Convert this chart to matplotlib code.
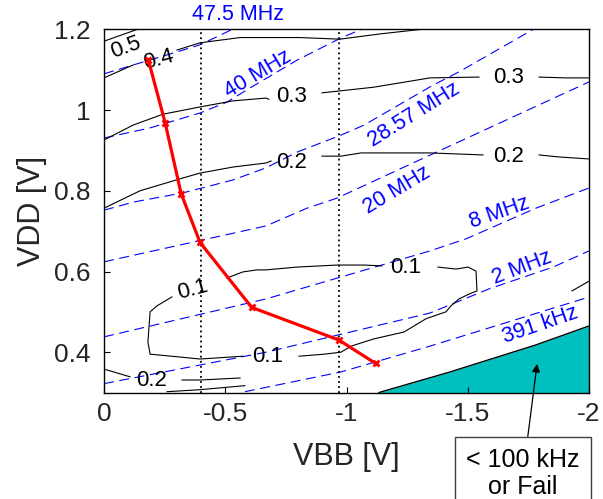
import matplotlib

matplotlib.use("Agg")

import matplotlib.pyplot as plt
import numpy as np

plt.rcParams["font.family"] = ["Liberation Sans", "DejaVu Sans"]

nan = np.nan

# ------------------------------------------------------------------ data

# optimum (VBB, VDD) trace
OPT_VBB = [-0.183, -0.252, -0.318, -0.396, -0.609, -0.969, -1.120]
OPT_VDD = [1.124, 0.969, 0.793, 0.672, 0.511, 0.430, 0.372]

# dotted reference lines
MARK_VBB = [-0.40, -0.97]

# frequency contours (blue, dashed)
F475_VBB = [0.0, -0.120, -0.260, -0.396, -0.528]
F475_VDD = [1.090, 1.112, 1.137, 1.162, 1.200]
F40_VBB = [0.0, -0.190, -0.396, -0.507, -0.602, -0.796, -0.977, -1.060]
F40_VDD = [0.931, 0.956, 0.993, 1.020, 1.055, 1.124, 1.179, 1.200]
F2857_VBB = [0.0, -0.120, -0.326, -0.532, -0.668, -0.796, -0.977, -1.072, -1.357, -1.464, -1.769]
F2857_VDD = [0.752, 0.772, 0.795, 0.827, 0.857, 0.896, 0.938, 0.963, 1.062, 1.095, 1.200]
F20_VBB = [0.0, -0.668, -0.837, -0.961, -1.328, -2.0]
F20_VDD = [0.624, 0.713, 0.757, 0.782, 0.884, 1.070]
F8_VBB = [0.0, -0.668, -1.344, -1.493, -1.781, -2.0]
F8_VDD = [0.438, 0.532, 0.651, 0.681, 0.757, 0.807]
F2_VBB = [0.0, -0.668, -1.344, -1.588, -1.852, -2.0]
F2_VDD = [0.322, 0.400, 0.497, 0.557, 0.611, 0.651]
F391_VBB = [-0.581, -0.977, -1.344, -1.975, -2.0]
F391_VDD = [0.302, 0.351, 0.415, 0.532, 0.537]

FREQ_TEXT = ["47.5 MHz", "40 MHz", "28.57 MHz", "20 MHz", "8 MHz", "2 MHz", "391 kHz"]
FREQ_TEXT_VBB = [-0.553, -0.635, -1.278, -1.208, -1.633, -1.724, -1.798]
FREQ_TEXT_VDD = [1.236, 1.090, 0.988, 0.802, 0.747, 0.609, 0.467]
FREQ_TEXT_ROT = [0, 31, 32, 31, 19, 21, 19]

# energy contours (black), nan = gap for the inline label
E05_VBB = [0.0, -0.136]
E05_VDD = [1.171, 1.200]
E04_VBB = [0.0, -0.120, nan, -0.301, -0.396, -0.561, -0.808, -0.973, -1.138, -1.303]
E04_VDD = [1.080, 1.112, nan, 1.149, 1.167, 1.180, 1.180, 1.176, 1.189, 1.200]
E03_VBB = [0.0, -0.120, -0.243, -0.396, -0.532, -0.668, -0.680, nan,
           -0.899, -0.977, -1.113, -1.344, -1.546, nan, -1.794, -1.905, -2.0]
E03_VDD = [0.926, 0.963, 0.990, 1.008, 1.023, 1.030, 1.027, nan,
           1.043, 1.048, 1.057, 1.080, 1.082, nan, 1.082, 1.080, 1.080]
E02_VBB = [0.0, -0.148, -0.326, -0.396, -0.532, -0.668, -0.689, nan,
           -0.899, -0.977, -1.060, -1.344, -1.563, nan, -1.794, -1.876, -2.0]
E02_VDD = [0.757, 0.800, 0.832, 0.844, 0.859, 0.869, 0.874, nan,
           0.886, 0.886, 0.894, 0.894, 0.889, nan, 0.889, 0.884, 0.879]
E01_VBB = [-0.507, -0.573, -0.631, -0.668, -0.796, -0.961, -1.072, -1.146, nan,
           -1.377, -1.452, -1.501, -1.534, -1.538, -1.505, -1.464, -1.431, -1.410,
           -1.328, -1.237, -1.113, -1.019, -0.977, -0.907, -0.804, nan,
           -0.573, -0.396, -0.313, -0.190, -0.181, -0.190, -0.219, -0.280, nan,
           -1.930, -2.0]
E01_VDD = [0.584, 0.599, 0.604, 0.604, 0.611, 0.616, 0.616, 0.614, nan,
           0.611, 0.606, 0.611, 0.601, 0.552, 0.544, 0.532, 0.515, 0.500,
           0.483, 0.450, 0.433, 0.415, 0.400, 0.395, 0.390, nan,
           0.390, 0.383, 0.388, 0.395, 0.425, 0.500, 0.515, 0.537, nan,
           0.552, 0.576]
E02B_VBB = [0.0, -0.107, nan, -0.322, -0.396, -0.561, nan, -0.260, -0.396, -0.581]
E02B_VDD = [0.358, 0.339, nan, 0.331, 0.331, 0.336, nan, 0.302, 0.307, 0.317]

E_TEXT = ["0.5", "0.4", "0.3", "0.3", "0.2", "0.2", "0.1", "0.1", "0.1", "0.2"]
E_TEXT_VBB = [-0.091, -0.227, -0.775, -1.670, -0.775, -1.670, -1.245, -0.674, -0.367, -0.198]
E_TEXT_VDD = [1.155, 1.126, 1.033, 1.082, 0.871, 0.886, 0.611, 0.389, 0.554, 0.330]
E_TEXT_ROT = [20, 15, 0, 0, 0, 0, 0, 0, 15, 0]

# "< 100 kHz or Fail" region boundary
FAIL_VBB = [-1.134, -1.427, -1.781, -2.0]
FAIL_VDD = [0.300, 0.351, 0.418, 0.465]

# ------------------------------------------------------------------ drawing

fig = plt.figure(figsize=(6.03, 4.99), dpi=100)
ax = fig.add_axes([0.1725, 0.2134, 0.8043, 0.7275])

ax.fill_between(FAIL_VBB, FAIL_VDD, 0.0, color="#00bfbf", lw=0, zorder=1)
ax.plot(FAIL_VBB, FAIL_VDD, color="black", lw=1.0, zorder=2)

for xs, ys in [(F475_VBB, F475_VDD), (F40_VBB, F40_VDD), (F2857_VBB, F2857_VDD),
               (F20_VBB, F20_VDD), (F8_VBB, F8_VDD), (F2_VBB, F2_VDD),
               (F391_VBB, F391_VDD)]:
    ax.plot(xs, ys, color="#0000ff", lw=0.8, linestyle=(0, (9, 5)), zorder=2)
for t, x, y, r in zip(FREQ_TEXT, FREQ_TEXT_VBB, FREQ_TEXT_VDD, FREQ_TEXT_ROT):
    ax.text(x, y, t, color="#0000ff", fontsize=15.5, rotation=r,
            ha="center", va="center", rotation_mode="anchor", zorder=4)

for xs, ys in [(E05_VBB, E05_VDD), (E04_VBB, E04_VDD), (E03_VBB, E03_VDD),
               (E02_VBB, E02_VDD), (E01_VBB, E01_VDD), (E02B_VBB, E02B_VDD)]:
    ax.plot(xs, ys, color="black", lw=0.8, zorder=2)
for t, x, y, r in zip(E_TEXT, E_TEXT_VBB, E_TEXT_VDD, E_TEXT_ROT):
    ax.text(x, y, t, color="black", fontsize=16, rotation=r,
            ha="center", va="center", rotation_mode="anchor", zorder=4)

for v in MARK_VBB:
    ax.axvline(v, color="black", lw=1.3, linestyle=(0, (1, 1.8)), zorder=2)

ax.plot(OPT_VBB, OPT_VDD, color="red", lw=2.3, marker="x", markersize=5,
        markeredgewidth=2, zorder=5)

ax.annotate("< 100 kHz\nor Fail", xy=(-1.786, 0.371), xytext=(-1.728, 0.099),
            ha="center", va="center", fontsize=18, linespacing=1.15,
            bbox=dict(boxstyle="square,pad=0.45", facecolor="white",
                      edgecolor="#404040", lw=1),
            arrowprops=dict(arrowstyle="-|>", color="black", lw=0.9,
                            mutation_scale=12, shrinkA=0, shrinkB=0),
            annotation_clip=False, zorder=6)

ax.set_xlim(0, -2)
ax.set_ylim(0.3, 1.2)
ax.set_xticks([0, -0.5, -1, -1.5, -2], ["0", "-0.5", "-1", "-1.5", "-2"])
ax.set_yticks([0.4, 0.6, 0.8, 1.0, 1.2], ["0.4", "0.6", "0.8", "1", "1.2"])
ax.tick_params(direction="in", length=4, width=0.8, labelsize=19,
               labelcolor="#262626")
ax.tick_params(axis="x", pad=7)
ax.tick_params(axis="y", pad=10)
ax.set_xlabel("VBB [V]", fontsize=22, color="#262626", labelpad=11)
ax.set_ylabel("VDD [V]", fontsize=22, color="#262626", labelpad=5)
for s in ax.spines.values():
    s.set_linewidth(1.0)

fig.savefig("out.png", dpi=100)
